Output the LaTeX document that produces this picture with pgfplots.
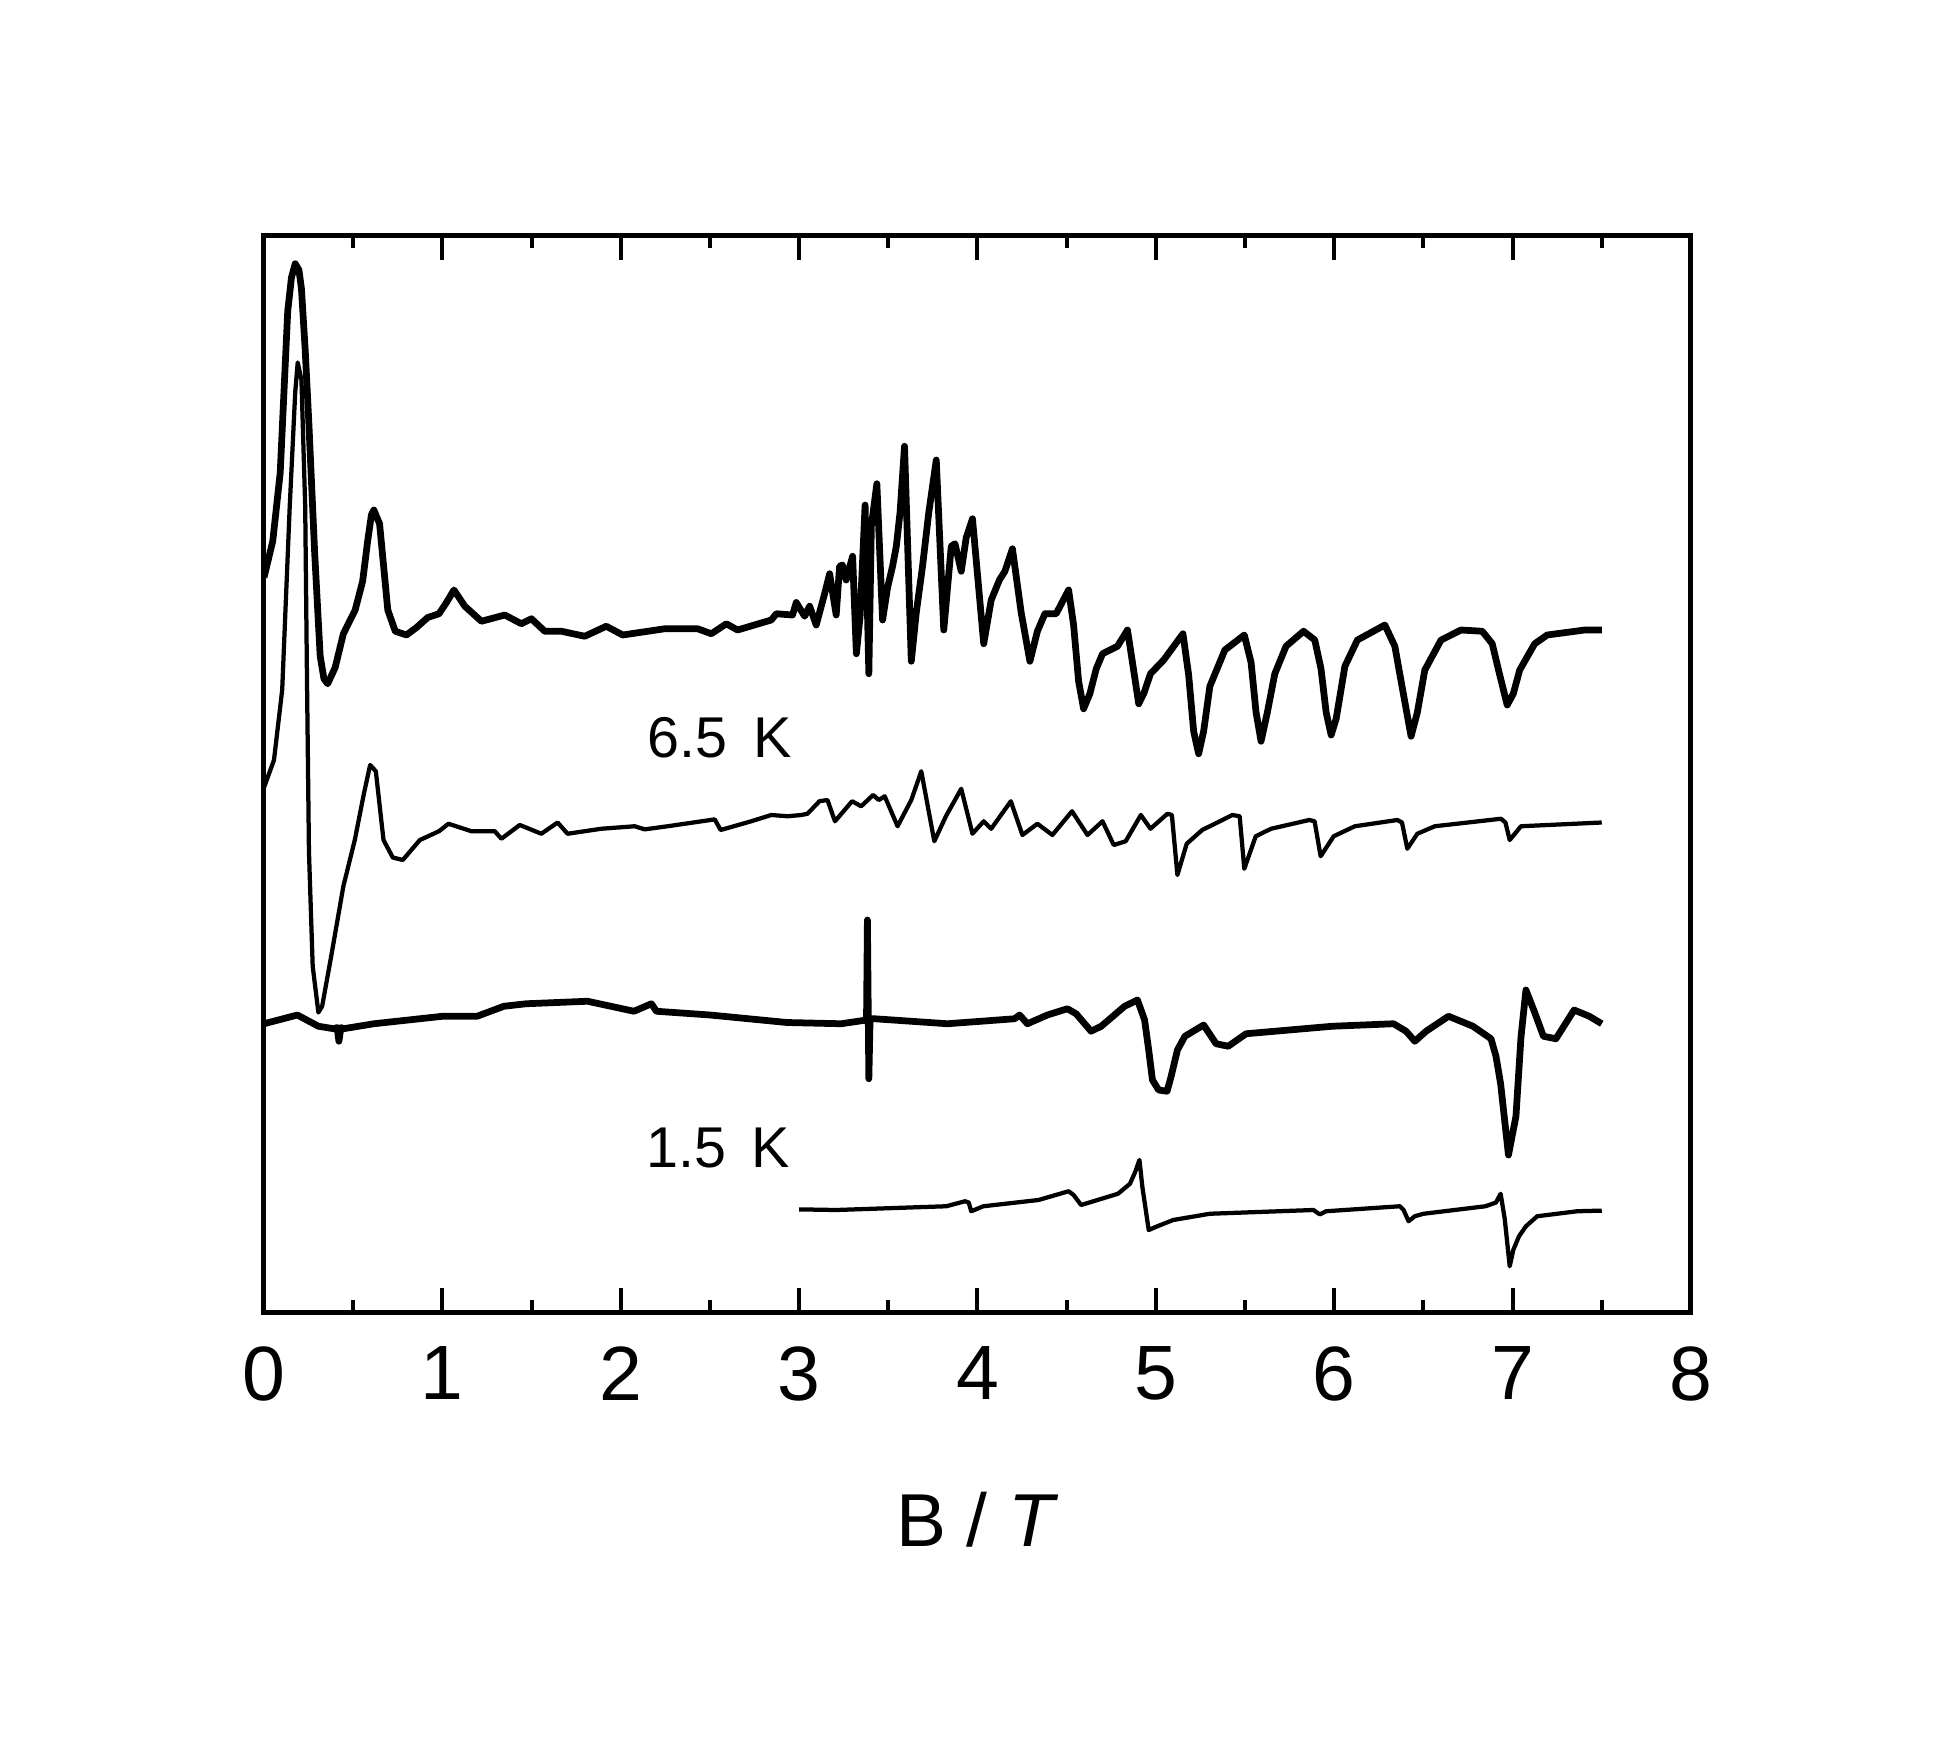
\documentclass[border=0pt]{standalone}
\usepackage{fontspec}
\setmainfont{Liberation Sans}
\usepackage{pgfplots}
\pgfplotsset{compat=1.18}
\begin{document}
\begin{tikzpicture}
\path[use as bounding box] (-52.8pt,-86.3pt) rectangle (339pt,262.5pt);
\begin{axis}[
  at={(0,0)}, anchor=south west,
  scale only axis, width=285.4pt, height=215.5pt,
  xmin=0, xmax=8, ymin=0, ymax=86.2,
  xtick={0,1,2,3,4,5,6,7,8}, minor x tick num=1,
  ytick=\empty,
  tick align=inside, xtick pos=both,
  major tick length=5pt, minor tick length=2.6pt,
  tick style={black, line width=0.8pt},
  axis line style={line width=1pt},
  /pgf/number format/assume math mode=true,
  ticklabel style={font=\fontsize{15.4}{18}\selectfont},
  xticklabel style={yshift=-3.3pt},
  xlabel={B / \textit{T}},
  xlabel style={font=\fontsize{15}{18}\selectfont, at={(axis description cs:0.5,0)}, anchor=center, yshift=-41.5pt},
]
% 6.5 K, upper (thick)
\addplot[black, line width=1.35pt, line join=round] coordinates {
(0.000,58.8) (0.049,61.7) (0.091,67.2) (0.133,80.1) (0.154,82.8) (0.175,83.9) (0.196,83.4) (0.210,81.9)
(0.231,77.0) (0.252,71.0) (0.284,60.8) (0.315,52.5) (0.336,50.7) (0.357,50.3) (0.399,51.6) (0.445,54.3)
(0.511,56.2) (0.553,58.5) (0.581,61.7) (0.602,63.8) (0.616,64.2) (0.648,63.1) (0.672,59.5) (0.694,56.2)
(0.736,54.5) (0.799,54.2) (0.855,54.8) (0.918,55.6) (0.981,55.9) (1.023,56.8) (1.065,57.8) (1.126,56.5)
(1.219,55.3) (1.350,55.8) (1.443,55.1) (1.499,55.5) (1.574,54.5) (1.667,54.5) (1.798,54.1) (1.919,54.9)
(2.011,54.2) (2.247,54.7) (2.431,54.7) (2.508,54.3) (2.592,55.1) (2.655,54.6) (2.844,55.4) (2.872,55.9)
(2.963,55.8) (2.984,56.8) (3.031,55.7) (3.059,56.5) (3.096,55.0) (3.143,57.5) (3.171,59.1) (3.208,55.8)
(3.227,59.7) (3.243,59.8) (3.264,58.6) (3.300,60.5) (3.321,52.7) (3.342,55.7) (3.370,64.6) (3.391,51.1)
(3.405,62.9) (3.436,66.3) (3.468,55.4) (3.496,58.0) (3.524,59.7) (3.545,61.3) (3.566,64.0) (3.591,69.3)
(3.629,52.1) (3.657,56.0) (3.692,59.7) (3.727,64.0) (3.769,68.2) (3.811,54.6) (3.853,61.3) (3.874,61.5)
(3.909,59.3) (3.937,62.0) (3.972,63.5) (4.035,53.5) (4.077,57.0) (4.123,58.6) (4.154,59.3) (4.196,61.1)
(4.245,56.0) (4.294,52.1) (4.336,54.5) (4.378,55.9) (4.441,55.9) (4.511,57.8) (4.539,55.0) (4.567,50.5)
(4.595,48.3) (4.630,49.5) (4.666,51.5) (4.701,52.7) (4.785,53.3) (4.841,54.6) (4.869,52.0) (4.904,48.7)
(4.932,49.5) (4.970,51.1) (5.044,52.2) (5.152,54.3) (5.184,51.0) (5.212,46.5) (5.240,44.7) (5.268,46.5)
(5.303,50.1) (5.387,53.0) (5.496,54.2) (5.534,52.0) (5.562,48.0) (5.590,45.7) (5.625,48.0) (5.667,51.1)
(5.730,53.3) (5.828,54.5) (5.891,53.8) (5.926,51.5) (5.955,48.0) (5.983,46.2) (6.011,47.5) (6.060,51.7)
(6.130,53.8) (6.284,55.0) (6.340,53.3) (6.375,50.5) (6.431,46.1) (6.466,48.0) (6.508,51.4) (6.599,53.8)
(6.711,54.6) (6.830,54.5) (6.886,53.5) (6.928,51.0) (6.970,48.6) (7.004,49.5) (7.040,51.4) (7.124,53.5)
(7.194,54.2) (7.405,54.6) (7.500,54.6)
};
% 6.5 K, lower (thin)
\addplot[black, line width=0.85pt, line join=round] coordinates {
(0.000,42.0) (0.056,44.2) (0.102,49.8) (0.144,64.4) (0.175,73.6) (0.189,76.0) (0.210,74.6) (0.231,64.5)
(0.241,50.7) (0.252,36.9) (0.273,27.7) (0.305,24.0) (0.326,24.5) (0.378,28.6) (0.445,34.1) (0.509,37.8)
(0.560,41.5) (0.595,43.8) (0.627,43.3) (0.670,37.8) (0.722,36.4) (0.778,36.2) (0.874,37.8) (0.981,38.5)
(1.034,39.1) (1.163,38.5) (1.294,38.5) (1.331,37.9) (1.434,39.0) (1.555,38.3) (1.646,39.2) (1.702,38.3)
(1.891,38.7) (2.078,38.9) (2.134,38.65) (2.263,38.9) (2.527,39.45) (2.560,38.6) (2.732,39.3) (2.844,39.8)
(2.935,39.7) (3.012,39.8) (3.047,39.9) (3.114,40.9) (3.159,41.0) (3.201,39.3) (3.297,40.9) (3.348,40.5)
(3.415,41.4) (3.447,41.0) (3.480,41.3) (3.552,38.9) (3.629,41.0) (3.685,43.3) (3.758,37.7) (3.823,39.7)
(3.909,41.9) (3.972,38.3) (4.035,39.3) (4.077,38.7) (4.187,40.9) (4.252,38.2) (4.336,39.1) (4.420,38.2)
(4.530,40.1) (4.617,38.2) (4.701,39.3) (4.764,37.4) (4.831,37.7) (4.916,39.8) (4.970,38.7) (5.065,39.9)
(5.090,39.8) (5.121,35.0) (5.173,37.5) (5.260,38.6) (5.429,39.8) (5.470,39.7) (5.496,35.5) (5.560,38.1)
(5.646,38.7) (5.860,39.4) (5.890,39.3) (5.924,36.5) (5.997,38.1) (6.116,38.9) (6.354,39.4) (6.380,39.2)
(6.410,37.1) (6.466,38.3) (6.564,38.9) (6.935,39.5) (6.960,39.2) (6.984,37.8) (7.047,38.9) (7.500,39.2)
};
% 1.5 K, upper (thick)
\addplot[black, line width=1.35pt, line join=round] coordinates {
(0.000,23.1) (0.187,23.8) (0.305,22.9) (0.392,22.7) (0.410,22.8) (0.420,21.7) (0.431,22.8) (0.445,22.7)
(0.616,23.1) (1.002,23.7) (1.195,23.7) (1.345,24.5) (1.471,24.7) (1.814,24.9) (2.074,24.1) (2.172,24.7)
(2.200,24.1) (2.501,23.8) (2.932,23.2) (3.236,23.1) (3.378,23.4) (3.383,31.4) (3.391,18.7) (3.398,23.5)
(3.423,23.5) (3.832,23.1) (4.208,23.5) (4.236,23.8) (4.280,23.1) (4.392,23.8) (4.504,24.3) (4.553,23.9)
(4.637,22.5) (4.694,22.9) (4.825,24.5) (4.897,25.0) (4.937,23.4) (4.960,21.0) (4.981,18.6) (5.016,17.8)
(5.063,17.7) (5.086,18.9) (5.121,21.0) (5.163,22.1) (5.268,23.0) (5.338,21.5) (5.406,21.3) (5.506,22.3)
(5.989,22.9) (6.333,23.1) (6.403,22.5) (6.452,21.7) (6.515,22.5) (6.641,23.7) (6.778,22.9) (6.879,21.9)
(6.907,20.5) (6.933,18.3) (6.977,12.6) (7.019,15.7) (7.047,22.0) (7.075,25.8) (7.124,24.0) (7.173,22.1)
(7.243,21.9) (7.345,24.2) (7.430,23.7) (7.500,23.1)
};
% 1.5 K, lower (thin)
\addplot[black, line width=0.85pt, line join=round] coordinates {
(3.000,8.25) (3.208,8.2) (3.825,8.5) (3.930,8.9) (3.951,8.8) (3.965,8.1) (4.033,8.5) (4.342,9.0)
(4.511,9.7) (4.539,9.4) (4.581,8.6) (4.788,9.5) (4.855,10.3) (4.883,11.2) (4.908,12.2) (4.925,10.0)
(4.960,6.6) (5.009,6.9) (5.097,7.4) (5.303,7.9) (5.884,8.2) (5.919,7.85) (5.954,8.1) (6.368,8.5)
(6.389,8.2) (6.417,7.3) (6.452,7.7) (6.501,7.9) (6.848,8.5) (6.907,8.8) (6.933,9.5) (6.956,7.5)
(6.984,3.7) (7.004,5.0) (7.036,6.1) (7.075,6.9) (7.138,7.7) (7.362,8.1) (7.500,8.15)
};
\node[font=\fontsize{11.5}{14}\selectfont] at (axis cs:2.553,46.0) {6.5\hspace{0.45em}K};
\node[font=\fontsize{11.5}{14}\selectfont] at (axis cs:2.547,13.2) {1.5\hspace{0.45em}K};
\end{axis}
\end{tikzpicture}
\end{document}
